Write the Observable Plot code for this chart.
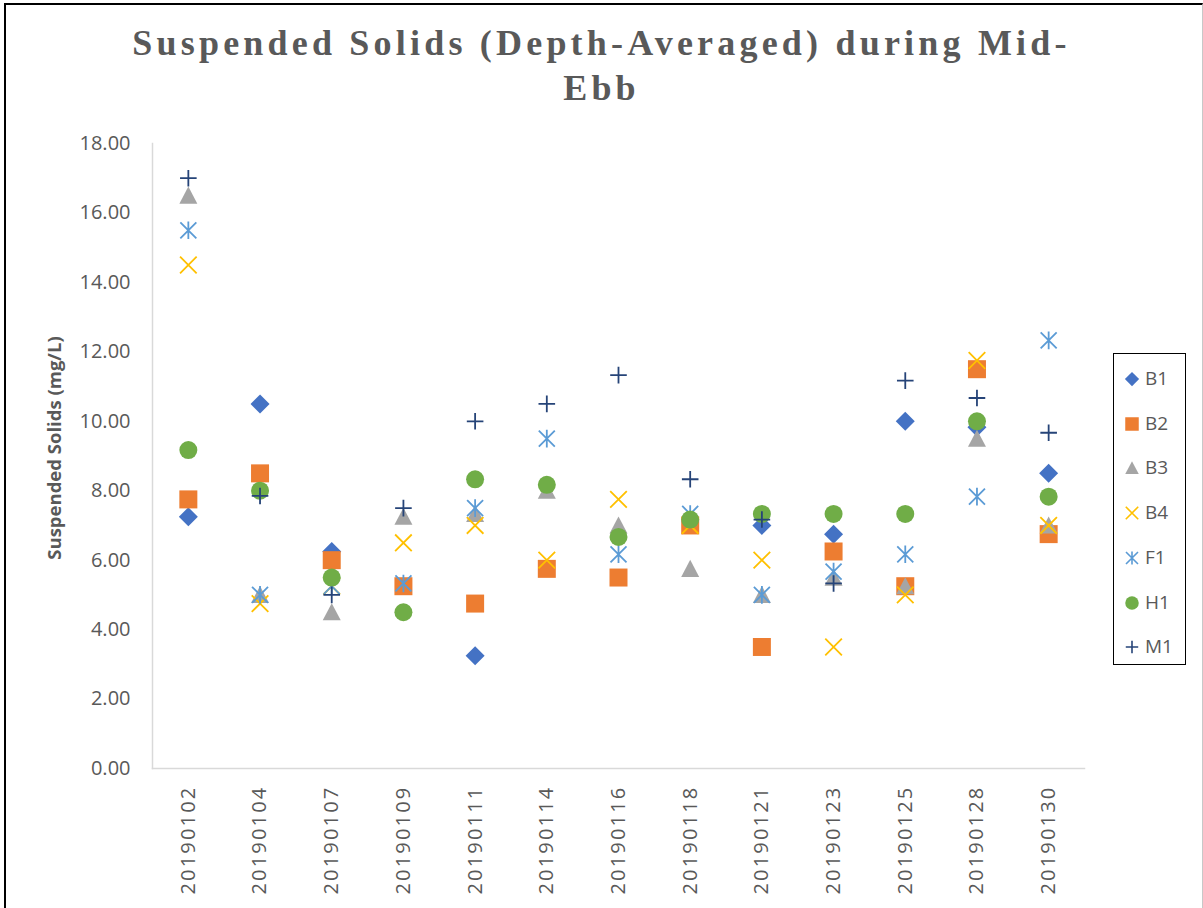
<!DOCTYPE html>
<html><head><meta charset="utf-8">
<script src="https://cdn.jsdelivr.net/npm/d3@7"></script>
<script src="https://cdn.jsdelivr.net/npm/@observablehq/plot@0.6"></script>
<style>
body{margin:0;background:#fff;}
#chart{position:relative;width:1203px;height:908px;overflow:hidden;background:#fff;}
#border{position:absolute;left:4px;top:3px;width:1196px;height:920px;border-left:2px solid #000;border-top:2px solid #000;border-right:1px solid #c8c8c8;}
#title{position:absolute;left:0;top:21px;width:1203px;text-align:center;font-family:"Liberation Serif",serif;font-weight:bold;font-size:36px;line-height:45px;letter-spacing:4.2px;color:#595959;}
#plot{position:absolute;left:0;top:120px;}
#plot g[aria-label="x-axis tick label"] text{letter-spacing:2.2px;}
#legend{position:absolute;left:1113px;top:353px;width:71px;height:310px;border:1.5px solid #000;background:#fff;}
.item{position:absolute;left:0;height:24px;width:70px;}
.item svg{position:absolute;left:8px;top:2px;}
.item span{position:absolute;left:31px;top:-2px;font-family:"Open Sans",sans-serif;font-size:19px;color:#595959;}
</style></head><body>
<div id="chart">
  <div id="border"></div>
  <div id="title">Suspended Solids (Depth-Averaged) during Mid-<br>Ebb</div>
  <div id="plot"></div>
  <div id="legend"></div>
</div>
<script>
const dates = ["20190102","20190104","20190107","20190109","20190111","20190114","20190116","20190118","20190121","20190123","20190125","20190128","20190130"];
const seriesNames = ["B1","B2","B3","B4","F1","H1","M1"];
const B1 = [7.25, 10.5, 6.25, null, 3.25, null, null, null, 7.0, 6.75, 10.0, 9.83, 8.5];
const B2 = [7.75, 8.5, 6.0, 5.25, 4.75, 5.75, 5.5, 7.0, 3.5, 6.25, 5.25, 11.5, 6.75];
const B3 = [16.5, 5.0, 4.5, 7.25, 7.33, 8.0, 7.0, 5.75, 5.0, 5.5, 5.25, 9.5, 7.0];
const B4 = [14.5, 4.75, 5.25, 6.5, 7.0, 6.0, 7.75, 7.0, 6.0, 3.5, 5.0, 11.75, 7.0];
const F1 = [15.5, 5.0, 5.25, 5.33, 7.5, 9.5, 6.17, 7.33, 5.0, 5.67, 6.17, 7.83, 12.33];
const H1 = [9.17, 8.0, 5.5, 4.5, 8.33, 8.17, 6.67, 7.17, 7.33, 7.33, 7.33, 10.0, 7.83];
const M1 = [17.0, 7.85, 5.0, 7.5, 10.0, 10.5, 11.33, 8.33, 7.17, 5.33, 11.17, 10.67, 9.67];
const yTicks = [0, 2, 4, 6, 8, 10, 12, 14, 16, 18];
const yLabel = "Suspended Solids (mg/L)";

const colors = {B1:"#4472C4", B2:"#ED7D31", B3:"#A5A5A5", B4:"#FFC000", F1:"#5B9BD5", H1:"#70AD47", M1:"#264478"};
const values = {B1, B2, B3, B4, F1, H1, M1};

const rOf = s => Math.sqrt(s / Math.PI);
const sym = {
  diamond: {draw(c, s){const r=rOf(s); c.moveTo(0,-r); c.lineTo(r,0); c.lineTo(0,r); c.lineTo(-r,0); c.closePath();}},
  square: {draw(c, s){const r=rOf(s); c.rect(-r,-r,2*r,2*r);}},
  triangle: {draw(c, s){const r=rOf(s); c.moveTo(0,-r); c.lineTo(r,r*0.9); c.lineTo(-r,r*0.9); c.closePath();}},
  times: {draw(c, s){const r=rOf(s); c.moveTo(-r,-r); c.lineTo(r,r); c.moveTo(-r,r); c.lineTo(r,-r);}},
  asterisk: {draw(c, s){const r=rOf(s); c.moveTo(-r,-r); c.lineTo(r,r); c.moveTo(-r,r); c.lineTo(r,-r); c.moveTo(0,-r*1.1); c.lineTo(0,r*1.1);}},
  circle: {draw(c, s){const r=rOf(s); c.moveTo(r,0); c.arc(0,0,r,0,2*Math.PI);}},
  plus: {draw(c, s){const r=rOf(s); c.moveTo(-r,0); c.lineTo(r,0); c.moveTo(0,-r); c.lineTo(0,r);}}
};
const style = {
  B1:{symbol:sym.diamond, r:9.5, filled:true},
  B2:{symbol:sym.square, r:9, filled:true},
  B3:{symbol:sym.triangle, r:9, filled:true},
  B4:{symbol:sym.times, r:8.3, filled:false},
  F1:{symbol:sym.asterisk, r:8, filled:false},
  H1:{symbol:sym.circle, r:9, filled:true},
  M1:{symbol:sym.plus, r:8.3, filled:false}
};

const marks = [
  Plot.frame({anchor:"left", stroke:"#d9d9d9", strokeWidth:1.5}),
  Plot.frame({anchor:"bottom", stroke:"#d9d9d9", strokeWidth:1.5}),
  Plot.axisY({ticks: yTicks, tickFormat: d3.format(".2f"), tickSize: 0, tickPadding: 22, fontSize: 20, fontFamily: "Open Sans", fill:"#595959", label: null}),
  Plot.axisX({tickSize: 0, tickPadding: 17, tickRotate: -90, fontSize: 20, fontFamily: "Open Sans", fill:"#595959", label: null}),
  Plot.text([yLabel], {frameAnchor:"left", dx:-97, dy:-8, rotate:-90, text: d => d, fontSize:18.5, fontWeight:"bold", fontFamily:"Open Sans", fill:"#595959", textAnchor:"middle", lineAnchor:"middle"})
];
for (const name of seriesNames) {
  const st = style[name];
  const data = dates.map((d, i) => ({date: d, value: values[name][i]})).filter(d => d.value != null);
  marks.push(Plot.dot(data, {
    x: "date", y: "value", symbol: st.symbol, r: st.r,
    fill: st.filled ? colors[name] : "none",
    stroke: st.filled ? "none" : colors[name],
    strokeWidth: st.filled ? 0 : 1.8
  }));
}

const chart = Plot.plot({
  width: 1203, height: 788,
  marginTop: 23, marginBottom: 140, marginLeft: 152, marginRight: 119,
  x: {type: "point", domain: dates, padding: 0.5, round: false},
  y: {domain: [0, 18]},
  style: {background: "transparent", color: "#595959"},
  marks
});
document.getElementById("plot").appendChild(chart);

// legend
const legend = document.getElementById("legend");
seriesNames.forEach((name, i) => {
  const st = style[name];
  const item = document.createElement("div");
  item.className = "item";
  item.style.top = (13 + i * 44.7) + "px";
  const p = d3.path();
  const lr = st.r * 0.75;
  st.symbol.draw(p, Math.PI * lr * lr);
  const svg = d3.create("svg").attr("width", 20).attr("height", 20);
  svg.append("path").attr("transform", "translate(10,10)").attr("d", p.toString())
    .attr("fill", st.filled ? colors[name] : "none")
    .attr("stroke", st.filled ? "none" : colors[name])
    .attr("stroke-width", st.filled ? 0 : 1.6);
  item.appendChild(svg.node());
  const span = document.createElement("span");
  span.textContent = name;
  item.appendChild(span);
  legend.appendChild(item);
});
</script>
</body></html>
